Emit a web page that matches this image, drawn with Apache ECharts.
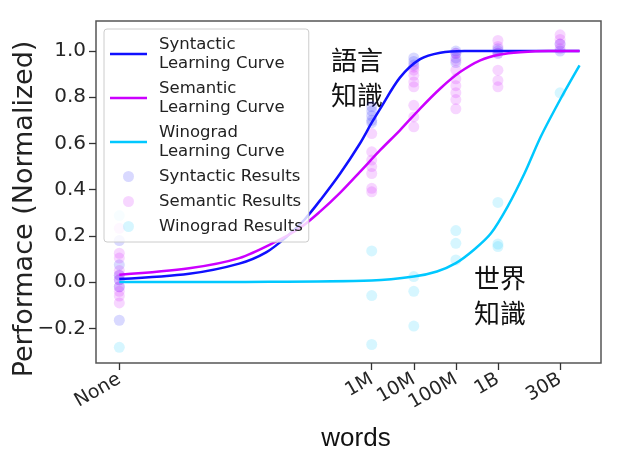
<!DOCTYPE html>
<html><head><meta charset="utf-8">
<script src="https://cdn.jsdelivr.net/npm/echarts@6/dist/echarts.min.js"></script>
<style>html,body{margin:0;padding:0;background:#fff}#c{width:632px;height:464px}</style>
</head><body><div id="c"></div>
<script>
// ---- tick labels (x axis = word count, plotted on log10 scale) ----
const xTickWords = [1, 1e6, 1e7, 1e8, 1e9, 3e10];
const xTickLabels = ['None', '1M', '10M', '100M', '1B', '30B'];
const yTickValues = [-0.2, 0.0, 0.2, 0.4, 0.6, 0.8, 1.0];

// ---- scatter results: [words, performance] ----
const syntacticResults = [
  [1, 0.18], [1, 0.075], [1, 0.03], [1, 0.01], [1, -0.02], [1, -0.165],
  [1e6, 0.76], [1e6, 0.74], [1e6, 0.72], [1e6, 0.70], [1e6, 0.69],
  [1e7, 0.97], [1e7, 0.955], [1e7, 0.94],
  [1e8, 1.0], [1e8, 0.99], [1e8, 0.97], [1e8, 0.95],
  [1e9, 1.01], [1e9, 1.0], [1e9, 0.99],
  [3e10, 1.03], [3e10, 1.0]
];
const semanticResults = [
  [1, 0.233], [1, 0.125], [1, 0.104], [1, 0.05], [1, 0.03], [1, 0.01], [1, -0.02], [1, -0.04], [1, -0.06], [1, -0.09],
  [1e6, 0.643], [1e6, 0.564], [1e6, 0.528], [1e6, 0.50], [1e6, 0.47], [1e6, 0.406], [1e6, 0.391],
  [1e7, 0.93], [1e7, 0.917], [1e7, 0.895], [1e7, 0.866], [1e7, 0.845], [1e7, 0.765], [1e7, 0.715], [1e7, 0.672],
  [1e8, 0.99], [1e8, 0.96], [1e8, 0.917], [1e8, 0.88], [1e8, 0.85], [1e8, 0.82], [1e8, 0.79], [1e8, 0.75],
  [1e9, 1.046], [1e9, 1.02], [1e9, 0.99], [1e9, 0.917], [1e9, 0.873], [1e9, 0.845],
  [3e10, 1.07], [3e10, 1.05], [3e10, 1.03], [3e10, 1.01]
];
const winogradResults = [
  [1, 0.288], [1, -0.282],
  [1e6, 0.135], [1e6, -0.058], [1e6, -0.27],
  [1e7, 0.024], [1e7, -0.04], [1e7, -0.19],
  [1e8, 0.223], [1e8, 0.168], [1e8, 0.096],
  [1e9, 0.345], [1e9, 0.165], [1e9, 0.154],
  [3e10, 0.819]
];

// ---- learning curves (x = log10 of words) ----
const syntacticCurveLogWords = [0, 1.66, 2.85, 3.5, 4.0, 4.4, 4.8, 5.25, 5.72, 6.0, 6.2, 6.67, 7.15, 7.63, 8.2, 9.0, 10.0, 10.94];
const syntacticCurveValues   = [0.013, 0.036, 0.08, 0.13, 0.2, 0.27, 0.36, 0.47, 0.6, 0.69, 0.75, 0.885, 0.965, 0.993, 1.0, 1.0, 1.0, 1.0];
const semanticCurveLogWords  = [0, 1.66, 2.85, 3.73, 4.3, 4.77, 5.24, 5.72, 6.2, 6.67, 7.15, 7.63, 8.1, 8.58, 9.05, 9.53, 10.2, 10.94];
const semanticCurveValues    = [0.032, 0.06, 0.104, 0.176, 0.235, 0.305, 0.385, 0.477, 0.571, 0.657, 0.751, 0.838, 0.909, 0.96, 0.985, 0.995, 1.0, 1.0];
const winogradCurveLogWords  = [0, 3, 6, 7, 7.55, 8, 8.43, 8.83, 9.23, 9.63, 10.02, 10.51, 10.94];
const winogradCurveValues    = [0.0, 0.001, 0.007, 0.024, 0.046, 0.082, 0.14, 0.21, 0.327, 0.47, 0.63, 0.80, 0.938];

const seriesNames = ['Syntactic\nLearning Curve', 'Semantic\nLearning Curve', 'Winograd\nLearning Curve',
  'Syntactic Results', 'Semantic Results', 'Winograd Results'];

const log10 = v => Math.log10(v);
const toPts = arr => arr.map(p => [log10(p[0]), p[1]]);
const zip = (xs, ys) => xs.map((x, i) => [x, ys[i]]);
const tickPos = xTickWords.map(log10);

const cBlue = '#1010ff', cMag = '#cc00ff', cCyan = '#00c8ff';
const font = '"DejaVu Sans", sans-serif';
const linePath = 'path://M0,0H37V2.6H0Z';

const chart = echarts.init(document.getElementById('c'));
chart.setOption({
  animation: false,
  backgroundColor: '#fff',
  grid: { left: 96, top: 21, width: 505, height: 342, show: true, borderColor: '#555', borderWidth: 1.5, outerBoundsMode: 'none' },
  xAxis: {
    type: 'value', min: -0.554, max: 11.45,
    axisLine: { show: false, onZero: false },
    splitLine: { show: false },
    axisTick: { show: true, length: 7, lineStyle: { color: '#333', width: 1.3 }, customValues: tickPos },
    axisLabel: {
      customValues: tickPos, rotate: 30, margin: 15, fontSize: 19, fontFamily: font, color: '#262626',
      formatter: v => { const i = tickPos.findIndex(t => Math.abs(t - v) < 1e-6); return i >= 0 ? xTickLabels[i] : ''; }
    },
    name: 'words', nameLocation: 'middle', nameGap: 63, nameMoveOverlap: false,
    nameTextStyle: { fontSize: 26, fontFamily: '"Liberation Sans", Arial, sans-serif', color: '#111', padding: [0, 0, 0, 15] }
  },
  yAxis: {
    type: 'value', min: -0.35, max: 1.13,
    axisLine: { show: false, onZero: false },
    splitLine: { show: false },
    axisTick: { show: true, length: 7, lineStyle: { color: '#333', width: 1.3 }, customValues: yTickValues },
    axisLabel: {
      customValues: yTickValues, margin: 10, fontSize: 20, fontFamily: font, color: '#262626',
      formatter: v => v.toFixed(1).replace('-', '\u2212')
    },
    name: 'Performace (Normalized)', nameLocation: 'middle', nameGap: 58, nameMoveOverlap: false,
    nameTextStyle: { fontSize: 27, fontFamily: font, color: '#222', padding: [0, 34, 0, 0] }
  },
  legend: {
    orient: 'vertical', left: 104, top: 29,
    padding: [6, 6, 6, 6],
    itemWidth: 37, itemHeight: 11, itemGap: 6,
    backgroundColor: 'rgba(255,255,255,0.8)', borderColor: '#ccc', borderWidth: 1, borderRadius: 3,
    textStyle: { fontSize: 16.5, lineHeight: 19, fontFamily: font, color: '#222', padding: [0, 0, 0, 7] },
    data: [
      { name: seriesNames[0], icon: linePath },
      { name: seriesNames[1], icon: linePath },
      { name: seriesNames[2], icon: linePath },
      { name: seriesNames[3], icon: 'circle' },
      { name: seriesNames[4], icon: 'circle' },
      { name: seriesNames[5], icon: 'circle' }
    ]
  },
  graphic: [
    { type: 'text', left: 331, top: 43, style: { text: '語言\n知識', font: '26px "Noto Sans CJK TC"', lineHeight: 35, fill: '#111' } },
    { type: 'text', left: 474, top: 261, style: { text: '世界\n知識', font: '26px "Noto Sans CJK TC"', lineHeight: 35, fill: '#111' } }
  ],
  series: [
    { name: seriesNames[0], type: 'line', data: zip(syntacticCurveLogWords, syntacticCurveValues), symbol: 'none', smooth: 0.3, color: cBlue, lineStyle: { width: 2.5, color: cBlue } },
    { name: seriesNames[1], type: 'line', data: zip(semanticCurveLogWords, semanticCurveValues), symbol: 'none', smooth: 0.3, color: cMag, lineStyle: { width: 2.5, color: cMag } },
    { name: seriesNames[2], type: 'line', data: zip(winogradCurveLogWords, winogradCurveValues), symbol: 'none', smooth: 0.3, color: cCyan, lineStyle: { width: 2.5, color: cCyan } },
    { name: seriesNames[3], type: 'scatter', data: toPts(syntacticResults), symbolSize: 11, itemStyle: { color: 'rgba(16,16,255,0.2)' } },
    { name: seriesNames[4], type: 'scatter', data: toPts(semanticResults), symbolSize: 11, itemStyle: { color: 'rgba(204,0,255,0.2)' } },
    { name: seriesNames[5], type: 'scatter', data: toPts(winogradResults), symbolSize: 11, itemStyle: { color: 'rgba(0,200,255,0.2)' } }
  ]
});
</script>
</body></html>
